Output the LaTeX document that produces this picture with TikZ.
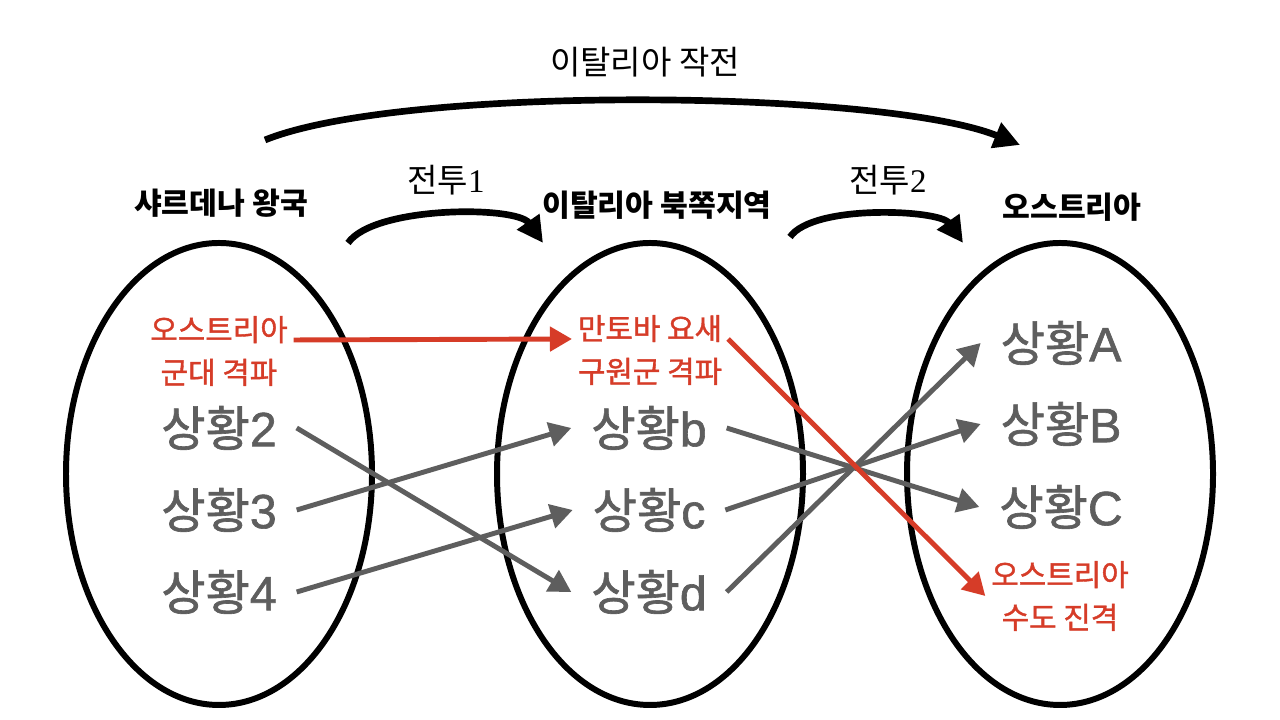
\documentclass[tikz,border=0pt]{standalone}
\usepackage{fontspec}
\setmainfont{Liberation Sans}
\newfontfamily\krfont{Noto Sans CJK KR}
\newfontfamily\krmed[FakeBold=1.3]{Noto Sans CJK KR}
\newfontfamily\latinmed[FakeBold=1.3]{Liberation Sans}
\newfontfamily\numfont{Liberation Serif}
\usepackage{xcolor}
\usepackage{tikz}
\usetikzlibrary{arrows.meta, positioning, calc}

\definecolor{sitgray}{RGB}{94,94,94}
\definecolor{evred}{RGB}{214,60,40}

\begin{document}
\begin{tikzpicture}[
  region/.style={font=\krfont\bfseries\fontsize{8.6}{10}\selectfont},
  battle/.style={font=\krfont\fontsize{9.4}{11}\selectfont},
  sit/.style={font=\krmed\fontsize{13.7}{15}\selectfont, text=sitgray, inner sep=0pt, outer sep=0.2cm},
  event/.style={font=\krmed\fontsize{8.5}{12.2}\selectfont, text=evred, align=center, inner sep=0pt, outer sep=0.06cm},
  move/.style={line width=1.9pt, -{Triangle[length=0.26cm, width=0.26cm]}},
  link/.style={sitgray, line width=1.4pt, -{Triangle[length=0.22cm, width=0.24cm]}}
]
  \useasboundingbox[fill=white] (0,0) rectangle (12.8,7.2);

  % the three regions
  \draw[line width=1.7pt] (2.19,2.46) ellipse (1.53cm and 2.31cm);
  \draw[line width=1.7pt] (6.50,2.46) ellipse (1.53cm and 2.31cm);
  \draw[line width=1.7pt] (10.60,2.46) ellipse (1.53cm and 2.31cm);

  \node[region] (sardinia) at (2.21,5.17) {샤르데나 왕국};
  \node[region] (north)    at (6.57,5.15) {이탈리아 북쪽지역};
  \node[region] (austria)  at (10.72,5.13) {오스트리아};

  \node[battle] (campaign) at (6.45,6.58) {이탈리아 작전};
  \node[battle] (battle1)  at (4.46,5.40) {전투{\numfont 1}};
  \node[battle] (battle2)  at (8.88,5.40) {전투{\numfont 2}};

  \coordinate (campS) at (2.65,5.80);
  \coordinate (campE) at (10.20,5.75);
  \coordinate (b1S) at (3.48,4.77);
  \coordinate (b1E) at (5.43,4.77);
  \coordinate (b2S) at (7.90,4.83);
  \coordinate (b2E) at (9.63,4.77);

  \draw[move] (campS) to[out=22, in=158, looseness=0.5] (campE);
  \draw[move] (b1S) to[out=55, in=125, looseness=0.6] (b1E);
  \draw[move] (b2S) to[out=55, in=125, looseness=0.6] (b2E);

  % situations
  \node[event] (armyL)   at (2.19,3.69) {오스트리아\\군대 격파};
  \node[sit]   (s2) at (2.19,2.92) {상황{\latinmed 2}};
  \node[sit]   (s3) at (2.19,2.10) {상황{\latinmed 3}};
  \node[sit]   (s4) at (2.19,1.28) {상황{\latinmed 4}};

  \node[event] (mantua)  at (6.50,3.70) {만토바 요새\\구원군 격파};
  \node[sit]   (sb) at (6.49,2.92) {상황{\latinmed b}};
  \node[sit]   (sc) at (6.49,2.10) {상황{\latinmed c}};
  \node[sit]   (sd) at (6.49,1.28) {상황{\latinmed d}};

  \node[sit]   (sA) at (10.61,3.77) {상황{\latinmed A}};
  \node[sit]   (sB) at (10.61,2.96) {상황{\latinmed B}};
  \node[sit]   (sC) at (10.61,2.13) {상황{\latinmed C}};
  \node[event] (capital) at (10.60,1.24) {오스트리아\\수도 진격};

  \draw[link] (s2.east) -- (sd.west);
  \draw[link] (s3.east) -- (sb.west);
  \draw[link] (s4.east) -- (sc.west);
  \draw[link] (sb.east) -- (sC.west);
  \draw[link] (sc.east) -- (sB.west);
  \draw[link] (sd.east) -- (sA.west);

  \draw[link, evred] ([yshift=0.11cm]armyL.east) -- ([yshift=0.11cm]mantua.west);
  \draw[link, evred] ([yshift=0.11cm]mantua.east) -- (capital.west);
\end{tikzpicture}
\end{document}
